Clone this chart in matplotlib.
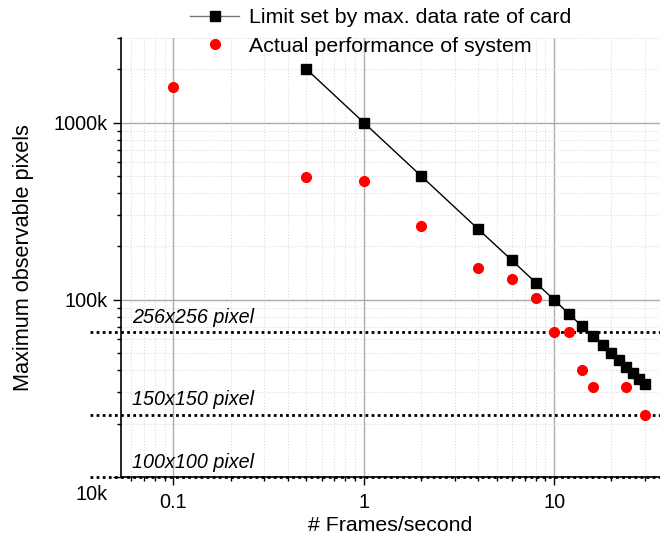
import numpy as np
import matplotlib.pyplot as plt
import matplotlib.transforms as mtransforms
from matplotlib.ticker import FixedLocator, FixedFormatter, LogLocator, NullFormatter

plt.rcParams['font.family'] = ['Liberation Sans', 'DejaVu Sans']

# limit set by the card's data rate
limit_fps = [0.5, 1, 2, 4, 6, 8, 10, 12, 14, 16, 18, 20, 22, 24, 26, 28, 30]
limit_px = [2000e3, 1000e3, 500e3, 250e3, 167e3, 125e3, 100e3, 83e3, 71e3,
            62.5e3, 55.6e3, 50e3, 45.5e3, 41.7e3, 38.5e3, 35.7e3, 33.3e3]

# measured performance
actual_fps = [0.1, 0.5, 1, 2, 4, 6, 8, 10, 12, 14, 16, 24, 30]
actual_px = [1580e3, 490e3, 470e3, 262e3, 152e3, 131e3, 103e3, 65.5e3, 65.5e3,
             40.3e3, 32.4e3, 32.4e3, 22.4e3]

# reference image sizes
ref_px = [65536, 22500, 10000]
ref_labels = ['256x256 pixel', '150x150 pixel', '100x100 pixel']

fig = plt.figure(figsize=(6.6, 5.42), dpi=100)
ax = fig.add_axes([0.1833, 0.1199, 0.8167, 0.81])
ax.set_xscale('log')
ax.set_yscale('log')
ax.set_xlim(0.053, 36)
ax.set_ylim(1e4, 3e6)

# grids
ax.xaxis.set_minor_locator(LogLocator(base=10, subs=np.arange(2, 10)))
ax.yaxis.set_minor_locator(LogLocator(base=10, subs=np.arange(2, 10)))
ax.xaxis.set_minor_formatter(NullFormatter())
ax.yaxis.set_minor_formatter(NullFormatter())
ax.grid(True, which='major', color='#b3aca6', lw=1.0)
ax.grid(True, which='minor', color='#dddddd', lw=0.8, ls=':')

ax.xaxis.set_major_locator(FixedLocator([0.1, 1, 10]))
ax.xaxis.set_major_formatter(FixedFormatter(['0.1', '1', '10']))
ax.yaxis.set_major_locator(FixedLocator([1e4, 1e5, 1e6]))
ax.yaxis.set_major_formatter(FixedFormatter(['10k', '100k', '1000k']))
ax.tick_params(which='major', length=6, width=1, labelsize=14.3, direction='out')
ax.tick_params(axis='x', which='major', pad=5.5)
ax.tick_params(which='minor', length=3, width=1, direction='out')

for s in ['top', 'right']:
    ax.spines[s].set_visible(False)
for s in ['left', 'bottom']:
    ax.spines[s].set_linewidth(1.2)

# reference lines
trans = ax.get_yaxis_transform()
for val, lab in zip(ref_px, ref_labels):
    ax.plot([-0.058, 1.0], [val, val], transform=trans, color='black',
            ls=(0, (1, 1.2)), lw=2, clip_on=False, zorder=4)
    ax.text(0.02, val * 1.07, lab, transform=trans, fontsize=14.2,
            style='italic', va='bottom', ha='left')

ax.plot(limit_fps, limit_px, color='black', lw=1, marker='s', ms=6.5,
        mfc='black', mec='black', zorder=5,
        label='Limit set by max. data rate of card')
ax.plot(actual_fps, actual_px, ls='none', marker='o', ms=7,
        mfc='#ff0000', mec='#ff0000', zorder=6,
        label='Actual performance of system')

ax.set_xlabel('# Frames/second', fontsize=15.3, labelpad=3)
ax.set_ylabel('Maximum observable pixels', fontsize=15.6, labelpad=14)

# the 10k label sits a bit below its tick
fig.canvas.draw()
lab10k = ax.yaxis.get_majorticklabels()[0]
lab10k.set_transform(lab10k.get_transform() +
                     mtransforms.ScaledTranslation(0, -15 / 100, fig.dpi_scale_trans))

leg = fig.legend(loc='upper left', bbox_to_anchor=(0.288, 0.985), frameon=False,
                 fontsize=15.4, handlelength=2.3, borderaxespad=0, borderpad=0,
                 labelspacing=0.45, handletextpad=0.45)
leg.get_lines()[0].set_color('#777777')
leg.get_lines()[0].set_markerfacecolor('black')
leg.get_lines()[0].set_markeredgecolor('black')

fig.savefig('out.png', dpi=100)
